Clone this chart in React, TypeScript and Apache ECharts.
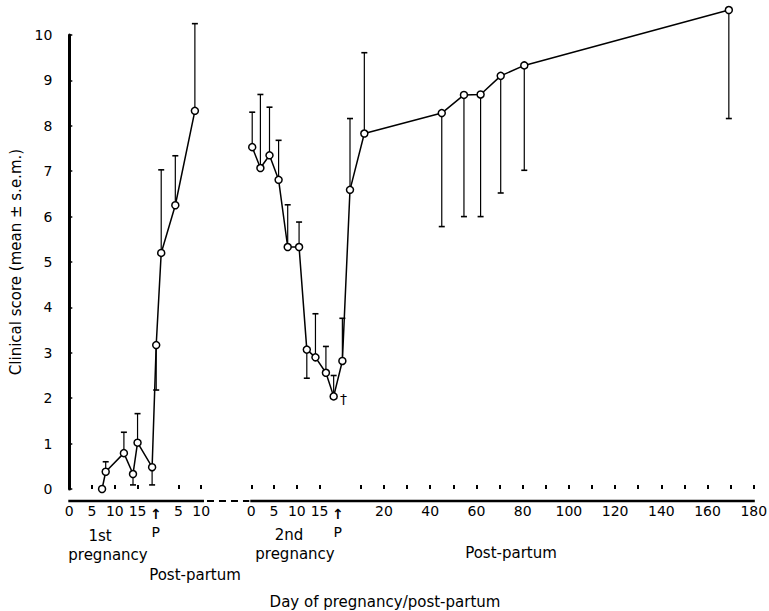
import React, { useEffect, useRef } from "react";
import * as echarts from "echarts";

// ---- axis layout (axis units = pregnancy days; 2nd post-partum compressed) ----
const P1_DAY = 19; // parturition after 1st pregnancy
const SEG2_START = 40; // where the 2nd pregnancy scale starts
const P2_DAY = 19; // parturition after 2nd pregnancy
const PP2_SCALE = 0.508; // 2nd post-partum days are drawn on a compressed scale

// ---- data ----
const preg1Days = [7.2, 8, 12, 14, 15, 18.2];
const preg1Scores = [0.0, 0.38, 0.79, 0.33, 1.02, 0.48];
const preg1ErrEnd: (number | null)[] = [null, 0.6, 1.25, 0.09, 1.66, 0.09];

const pp1Days = [0.1, 1.2, 4.3, 8.6];
const pp1Scores = [3.17, 5.2, 6.25, 8.33];
const pp1ErrEnd: (number | null)[] = [2.18, 7.03, 7.34, 10.25];

const preg2Days = [0.2, 2, 4, 6, 8, 10.5, 12.2, 14.1, 16.4, 18.1];
const preg2Scores = [7.53, 7.07, 7.35, 6.81, 5.33, 5.33, 3.07, 2.9, 2.56, 2.04];
const preg2ErrEnd: (number | null)[] = [8.3, 8.69, 8.41, 7.68, 6.26, 5.88, 2.44, 3.86, 3.14, 2.5];

const pp2Days = [2, 5.3, 11.5, 45, 54.6, 61.8, 70.5, 80.7, 169.2];
const pp2Scores = [2.82, 6.59, 7.83, 8.28, 8.68, 8.69, 9.1, 9.33, 10.55];
const pp2ErrEnd: (number | null)[] = [3.76, 8.16, 9.61, 5.78, 6.0, 6.0, 6.52, 7.02, 8.16];

// dagger marks this point of the 2nd pregnancy
const daggerIndexPreg2 = 9;

// ---- tick labels ----
const preg1TickDays = [0, 5, 10, 15];
const pp1TickDays = [5, 10];
const preg2TickDays = [0, 5, 10, 15];
const pp2TickDays = [10, 20, 30, 40, 50, 60, 70, 80, 90, 100, 110, 120, 130, 140, 150, 160, 170, 180];
const pp2LabelDays = [20, 40, 60, 80, 100, 120, 140, 160, 180];
const yTicks = [0, 1, 2, 3, 4, 5, 6, 7, 8, 9, 10];

const FONT = "DejaVu Sans";

const pos1Preg = (d: number) => d;
const pos1PP = (d: number) => P1_DAY + d;
const pos2Preg = (d: number) => SEG2_START + d;
const pos2PP = (d: number) => SEG2_START + P2_DAY + d * PP2_SCALE;
const X_MAX = pos2PP(180);

export default function App() {
  const ref = useRef<HTMLDivElement>(null);

  useEffect(() => {
    if (!ref.current) return;
    const chart = echarts.init(ref.current, undefined, { renderer: "svg" });

    const seg1 = [
      ...preg1Days.map((d, i) => [pos1Preg(d), preg1Scores[i]]),
      ...pp1Days.map((d, i) => [pos1PP(d), pp1Scores[i]]),
    ];
    const seg2: any[] = [
      ...preg2Days.map((d, i) =>
        i === daggerIndexPreg2
          ? {
              value: [pos2Preg(d), preg2Scores[i]],
              label: { show: true, formatter: "†", position: "right", distance: 2, offset: [0, 3] },
            }
          : [pos2Preg(d), preg2Scores[i]]
      ),
      ...pp2Days.map((d, i) => [pos2PP(d), pp2Scores[i]]),
    ];

    const errData: number[][] = [];
    const addErr = (days: number[], scores: number[], errs: (number | null)[], f: (d: number) => number) => {
      days.forEach((d, i) => {
        if (errs[i] !== null) errData.push([f(d), scores[i], errs[i] as number]);
      });
    };
    addErr(preg1Days, preg1Scores, preg1ErrEnd, pos1Preg);
    addErr(pp1Days, pp1Scores, pp1ErrEnd, pos1PP);
    addErr(preg2Days, preg2Scores, preg2ErrEnd, pos2Preg);
    addErr(pp2Days, pp2Scores, pp2ErrEnd, pos2PP);

    // tick & label positions
    const labelMap = new Map<string, string>();
    const key = (v: number) => v.toFixed(3);
    const tickVals: number[] = [];
    const labelVals: number[] = [];
    preg1TickDays.forEach((d) => {
      tickVals.push(pos1Preg(d));
      labelVals.push(pos1Preg(d));
      labelMap.set(key(pos1Preg(d)), String(d));
    });
    labelVals.push(P1_DAY);
    labelMap.set(key(P1_DAY), "{a|↑}\n{p|P}");
    pp1TickDays.forEach((d) => {
      tickVals.push(pos1PP(d));
      labelVals.push(pos1PP(d));
      labelMap.set(key(pos1PP(d)), String(d));
    });
    preg2TickDays.forEach((d) => {
      tickVals.push(pos2Preg(d));
      labelVals.push(pos2Preg(d));
      labelMap.set(key(pos2Preg(d)), String(d));
    });
    labelVals.push(pos2PP(0));
    labelMap.set(key(pos2PP(0)), "{a|↑}\n{p|P}");
    pp2TickDays.forEach((d) => tickVals.push(pos2PP(d)));
    pp2LabelDays.forEach((d) => {
      labelVals.push(pos2PP(d));
      labelMap.set(key(pos2PP(d)), String(d));
    });

    const option: any = {
      animation: false,
      grid: { left: 69.3, right: 15.2, top: 35, bottom: 122, outerBoundsMode: "none", containLabel: false },
      xAxis: {
        type: "value",
        min: 0,
        max: X_MAX,
        offset: 12,
        axisLine: { show: false },
        splitLine: { show: false },
        axisTick: {
          show: true,
          inside: true,
          length: 4,
          customValues: tickVals,
          lineStyle: { color: "#000", width: 2 },
        },
        axisLabel: {
          customValues: labelVals,
          formatter: (v: number) => labelMap.get(key(v)) ?? "",
          margin: 3,
          color: "#000",
          fontFamily: FONT,
          fontSize: 14,
          rich: {
            a: { fontFamily: FONT, fontSize: 14, fontWeight: "bold", lineHeight: 20, color: "#000" },
            p: { fontFamily: FONT, fontSize: 14, lineHeight: 15, color: "#000" },
          },
        },
      },
      yAxis: {
        type: "value",
        min: 0,
        max: 10,
        interval: 1,
        offset: 12,
        axisLine: { show: true, lineStyle: { color: "#000", width: 3 } },
        axisTick: { show: true, inside: true, length: 3, lineStyle: { color: "#000", width: 1.5 } },
        splitLine: { show: false },
        axisLabel: {
          customValues: yTicks,
          margin: 5,
          color: "#000",
          fontFamily: FONT,
          fontSize: 14,
        },
        name: "Clinical score (mean ± s.e.m.)",
        nameLocation: "middle",
        nameGap: 34,
        nameRotate: 90,
        nameTextStyle: { color: "#000", fontFamily: FONT, fontSize: 15 },
      },
      series: [
        {
          type: "custom",
          clip: false,
          data: errData,
          encode: { x: 0, y: 1 },
          renderItem: (params: any, api: any) => {
            const p0 = api.coord([api.value(0), api.value(1)]);
            const p1 = api.coord([api.value(0), api.value(2)]);
            return {
              type: "group",
              children: [
                {
                  type: "line",
                  shape: { x1: p0[0], y1: p0[1], x2: p1[0], y2: p1[1] },
                  style: { stroke: "#000", lineWidth: 1.2 },
                },
                {
                  type: "line",
                  shape: { x1: p1[0] - 3, y1: p1[1], x2: p1[0] + 3, y2: p1[1] },
                  style: { stroke: "#000", lineWidth: 1.6 },
                },
              ],
            };
          },
        },
        {
          type: "line",
          clip: false,
          data: seg1,
          symbol: "circle",
          symbolSize: 7,
          lineStyle: { color: "#000", width: 1.5 },
          itemStyle: { color: "#fff", borderColor: "#000", borderWidth: 1.5 },
        },
        {
          type: "line",
          clip: false,
          data: seg2,
          symbol: "circle",
          symbolSize: 7,
          label: { show: false, color: "#000", fontFamily: FONT, fontSize: 14 },
          lineStyle: { color: "#000", width: 1.5 },
          itemStyle: { color: "#fff", borderColor: "#000", borderWidth: 1.5 },
        },
      ],
    };
    chart.setOption(option);

    // segmented x-axis line, positioned through the axis scales
    const px = (u: number) => chart.convertToPixel({ xAxisIndex: 0 }, u) as number;
    const yLine = (chart.convertToPixel({ yAxisIndex: 0 }, 0) as number) + 12;
    const lineSeg = (a: number, b: number, dashed: boolean) => ({
      type: "line",
      shape: { x1: a, y1: yLine, x2: b, y2: yLine },
      style: { stroke: "#000", lineWidth: dashed ? 2 : 2.5, lineDash: dashed ? [7, 5] : undefined },
      silent: true,
    });
    const txt = (text: string, x: number, y: number, size = 15) => ({
      type: "text",
      x,
      y,
      style: { text, fill: "#000", fontFamily: FONT, fontSize: size, align: "center", verticalAlign: "middle" },
      silent: true,
    });
    chart.setOption({
      graphic: [
        lineSeg(px(0) - 1, px(29.6), false),
        lineSeg(px(29.6) + 3, px(SEG2_START) - 2, true),
        lineSeg(px(SEG2_START) - 1, px(X_MAX) + 1, false),
        txt("1st", 100, 536),
        txt("pregnancy", 108, 555),
        txt("Post-partum", 195, 575),
        txt("2nd", 289, 535),
        txt("pregnancy", 295, 554),
        txt("Post-partum", 511, 553),
        txt("Day of pregnancy/post-partum", 385, 602),
      ],
    });

    return () => chart.dispose();
  }, []);

  return (
    <div
      ref={ref}
      style={{ position: "fixed", left: 0, top: 0, width: 769, height: 611, background: "#fff" }}
    />
  );
}
